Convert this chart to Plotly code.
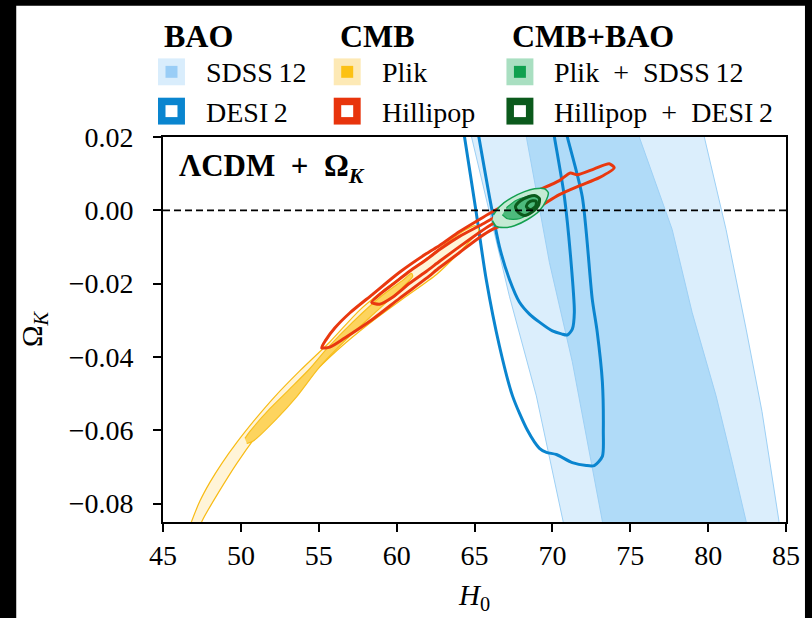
import plotly.graph_objects as go

# ---------------- data (H0, Omega_K contour vertices) ----------------
# SDSS 12 (BAO) filled bands
sdss_2s_h0 = [64.25, 64.81, 67.24, 68.97, 70.64, 71.2, 84.95, 84.55, 83.46, 82.44, 81.15, 79.74, 79.2]
sdss_2s_ok = [0.03, 0.02, -0.0234, -0.0506, -0.0848, -0.095, -0.095, -0.0848, -0.0549, -0.0324, -0.0052, 0.02, 0.03]
sdss_1s_h0 = [67.86, 68.33, 69.81, 71.28, 73.21, 73.69, 83.0, 82.44, 81.54, 80.51, 78.97, 77.69, 75.58, 75.0]
sdss_1s_ok = [0.03, 0.02, -0.0142, -0.0413, -0.0848, -0.095, -0.095, -0.0848, -0.0685, -0.0506, -0.0278, -0.0052, 0.02, 0.03]

# DESI 2 (BAO) outlines
desi_2s_h0 = [64.0, 64.36, 65.11, 65.75, 66.60, 67.44, 68.40, 69.17, 69.62, 70.26, 71.28, 72.18, 72.69,
              73.21, 73.27, 73.21, 72.88, 72.56, 71.92, 70.96, 70.37, 64.0]
desi_2s_ok = [0.03, 0.02, -0.0006, -0.0188, -0.0370, -0.0506, -0.0600, -0.0649, -0.0660, -0.0666, -0.0688,
              -0.0696, -0.0696, -0.0671, -0.0603, -0.0468, -0.0332, -0.0242, 0.0037, 0.02, 0.03, 0.03]
desi_1s_h0 = [64.85, 65.28, 65.96, 66.60, 67.24, 67.88, 68.53, 69.17, 70.0, 70.58, 70.96, 71.28, 71.41, 71.2,
              70.77, 70.13, 69.73, 64.85]
desi_1s_ok = [0.03, 0.02, 0.0037, -0.0099, -0.0188, -0.0250, -0.0283, -0.0305, -0.0329, -0.0337, -0.0340, -0.0324,
              -0.0278, -0.0142, 0.0037, 0.02, 0.03, 0.03]

# Plik (CMB) filled
plik_2s_h0 = [46.47, 46.84, 47.37, 48.01, 48.78, 49.74, 50.90, 52.18, 53.78, 55.71, 57.63, 59.74, 61.92, 64.04, 65.06,
              65.26, 65.26, 64.68, 63.72, 62.56, 60.38, 58.27, 56.15, 53.97, 51.86, 49.74, 47.50, 47.12]
plik_2s_ok = [-0.0894, -0.0848, -0.0793, -0.0742, -0.0690, -0.0633, -0.0571, -0.0508, -0.0438, -0.0359, -0.0272,
              -0.0199, -0.0131, -0.0063, -0.0042, -0.0050, -0.0058, -0.0085, -0.0128, -0.0175, -0.0242, -0.0308,
              -0.0383, -0.0473, -0.0568, -0.0690, -0.0848, -0.0894]
plik_1s_h0 = [50.26, 50.58, 51.86, 53.14, 54.42, 55.51, 57.18, 59.10, 60.38, 60.96, 61.03, 60.38, 58.72, 56.79,
              55.06, 53.59, 52.31, 50.77, 50.38]
plik_1s_ok = [-0.0622, -0.0603, -0.0541, -0.0487, -0.0432, -0.0378, -0.0305, -0.0231, -0.0191, -0.0172, -0.0180,
              -0.0210, -0.0275, -0.0351, -0.0427, -0.0508, -0.0568, -0.0630, -0.0636]

# Hillipop (CMB) outlines
hil_2s_h0 = [55.19, 55.45, 56.03, 56.99, 58.46, 60.19, 61.92, 62.76, 64.04, 65.32, 66.15, 67.88, 69.17, 70.45, 71.15,
             71.60, 72.69, 73.65, 73.97, 73.01, 71.73, 70.45, 68.97, 67.44, 66.15, 65.32, 64.04, 62.76, 61.92, 60.19,
             58.46, 56.67, 55.71, 55.19]
hil_2s_ok = [-0.0375, -0.0354, -0.0321, -0.0280, -0.0229, -0.0169, -0.0118, -0.0096, -0.0058, -0.0025, -0.0004,
             0.0032, 0.0056, 0.0081, 0.0102, 0.0097, 0.0113, 0.0127, 0.0116, 0.0089, 0.0067, 0.0043, 0.0005, -0.0028,
             -0.0052, -0.0074, -0.0115, -0.0156, -0.0185, -0.0240, -0.0297, -0.0348, -0.0373, -0.0375]
hil_1s_h0 = [58.40, 58.91, 59.74, 60.83, 61.92, 62.76, 64.04, 65.32, 66.60, 67.56, 68.21, 68.53, 68.33, 67.24, 65.96,
             64.04, 62.76, 61.92, 60.83, 59.74, 58.91, 58.40]
hil_1s_ok = [-0.0251, -0.0229, -0.0202, -0.0166, -0.0134, -0.0107, -0.0071, -0.0042, -0.0012, 0.0007, 0.0018, 0.0016,
             0.0005, -0.0014, -0.0042, -0.0099, -0.0139, -0.0166, -0.0199, -0.0237, -0.0256, -0.0251]

# Plik + SDSS 12 (CMB+BAO) filled
ps_2s_h0 = [66.15, 66.41, 66.92, 67.56, 68.40, 69.17, 69.62, 69.74, 69.49, 68.85, 68.21, 67.37, 66.60, 66.22]
ps_2s_ok = [-0.0028, -0.0044, -0.0047, -0.0042, -0.0025, -0.0001, 0.0029, 0.0048, 0.0059, 0.0059, 0.0051, 0.0034,
            0.0010, -0.0012]
ps_1s_h0 = [66.79, 67.12, 67.88, 68.65, 69.10, 69.17, 68.85, 68.33, 67.63, 67.05]
ps_1s_ok = [-0.0012, -0.0023, -0.0023, -0.0006, 0.0016, 0.0032, 0.0040, 0.0037, 0.0026, 0.0007]

# Hillipop + DESI 2 (CMB+BAO) outlines
hd_2s_h0 = [67.63, 67.82, 68.21, 68.72, 69.10, 69.17, 68.91, 68.46, 67.95, 67.63]
hd_2s_ok = [0.0010, -0.0006, -0.0014, -0.0004, 0.0013, 0.0032, 0.0040, 0.0037, 0.0026, 0.0010]
hd_1s_h0 = [68.33, 68.59, 68.91, 68.97, 68.72, 68.46, 68.33]
hd_1s_ok = [0.0010, 0.0002, 0.0010, 0.0024, 0.0026, 0.0021, 0.0010]

# reference line and axes
flat_h0 = [45, 85]
flat_ok = [0.0, 0.0]
x_ticks = [45, 50, 55, 60, 65, 70, 75, 80, 85]
y_ticks = [-0.08, -0.06, -0.04, -0.02, 0.0, 0.02]
x_range = [45, 85]
y_range = [-0.085, 0.02]

# ---------------- styles ----------------
C_SDSS2, C_SDSS1, C_SDSSE = "#dbeefc", "#b0dbf8", "#9dd0f5"
C_DESI = "#0a85cf"
C_PLIK2, C_PLIK2E, C_PLIK1, C_PLIK1E = "#fff4d8", "#f8bb14", "#fdd45e", "#f7bf1e"
C_HIL = "#e9380f"
C_PS2, C_PSE, C_PS1 = "#c5ead4", "#14a050", "#4dba7c"
C_HD = "#0b5a1c"
FONT = "Liberation Serif"

fig = go.Figure()


def add_fill(x, y, fill, edge, lw, shape="spline"):
    fig.add_trace(go.Scatter(x=x, y=y, mode="lines", fill="toself", fillcolor=fill,
                             line=dict(color=edge, width=lw, shape=shape, smoothing=0.7),
                             hoverinfo="skip", showlegend=False))


def add_line(x, y, color, lw, dash="solid", shape="spline"):
    fig.add_trace(go.Scatter(x=x, y=y, mode="lines",
                             line=dict(color=color, width=lw, dash=dash, shape=shape, smoothing=0.7),
                             hoverinfo="skip", showlegend=False))


add_fill(sdss_2s_h0, sdss_2s_ok, C_SDSS2, C_SDSSE, 1, shape="linear")
add_fill(sdss_1s_h0, sdss_1s_ok, C_SDSS1, C_SDSSE, 1, shape="linear")
add_line(desi_2s_h0, desi_2s_ok, C_DESI, 3)
add_line(desi_1s_h0, desi_1s_ok, C_DESI, 3)
add_fill(plik_2s_h0, plik_2s_ok, C_PLIK2, C_PLIK2E, 1.2)
add_fill(plik_1s_h0, plik_1s_ok, C_PLIK1, C_PLIK1E, 1.2)
add_line(hil_2s_h0, hil_2s_ok, C_HIL, 3)
add_line(hil_1s_h0, hil_1s_ok, C_HIL, 3)
add_fill(ps_2s_h0, ps_2s_ok, C_PS2, C_PSE, 1.5)
add_fill(ps_1s_h0, ps_1s_ok, C_PS1, C_PSE, 1.2)
add_line(hd_2s_h0, hd_2s_ok, C_HD, 3)
add_line(hd_1s_h0, hd_1s_ok, C_HD, 3)
add_line(flat_h0, flat_ok, "black", 1.8, dash="7px,4px", shape="linear")

# ---------------- layout ----------------
W, H = 812, 618
L, R, T, B = 163, 787, 137, 524


def px(xp):
    return (xp - L) / (R - L)


def py(yp):
    return (B - yp) / (B - T)


shapes = [dict(type="rect", xref="paper", yref="paper", x0=px(16), x1=px(806), y0=py(640), y1=py(5),
               fillcolor="white", line=dict(width=0), layer="below")]
annotations = []

# custom legend
headers = [("BAO", 162), ("CMB", 338), ("CMB+BAO", 511)]
for txt, xh in headers:
    annotations.append(dict(text="<b>%s</b>" % txt, x=px(xh), y=py(35), xref="paper", yref="paper",
                            xanchor="left", yanchor="middle", showarrow=False,
                            font=dict(family=FONT, size=32, color="black")))

PLUS = "\u2002+\u2002"
entries = [
    (158, 71.5, "SDSS\u200912", "#d9edfc", "#99cdf6"),
    (158, 111, "DESI\u20092", C_DESI, "white"),
    (334, 71.5, "Plik", "#fde9b5", "#fcc114"),
    (334, 111, "Hillipop", "#e8340c", "white"),
    (507, 71.5, "Plik" + PLUS + "SDSS\u200912", "#a9dfc1", "#10a04f"),
    (507, 111, "Hillipop" + PLUS + "DESI\u20092", C_HD, "white"),
]
for x0, yc, label, outer, inner in entries:
    shapes.append(dict(type="rect", xref="paper", yref="paper", x0=px(x0), x1=px(x0 + 27),
                       y0=py(yc + 13.5), y1=py(yc - 13.5), fillcolor=outer, line=dict(width=0)))
    shapes.append(dict(type="rect", xref="paper", yref="paper", x0=px(x0 + 7.5), x1=px(x0 + 19.5),
                       y0=py(yc + 6), y1=py(yc - 6), fillcolor=inner, line=dict(width=0)))
    annotations.append(dict(text=label, x=px(x0 + 46), y=py(yc + 1), xref="paper", yref="paper",
                            xanchor="left", yanchor="middle", showarrow=False,
                            font=dict(family=FONT, size=28, color="black")))

annotations.append(dict(text="<b>\u039bCDM\u2002+\u2002\u03a9<sub><i>K</i></sub></b>", x=px(177), y=py(168),
                        xref="paper", yref="paper", xanchor="left", yanchor="middle", showarrow=False,
                        font=dict(family=FONT, size=31, color="black")))

axis_common = dict(showline=True, linecolor="black", linewidth=1.6, mirror=True, ticks="outside",
                   ticklen=8, tickwidth=1.6, tickcolor="black", showgrid=False, zeroline=False,
                   tickfont=dict(family=FONT, size=28, color="black"))

fig.update_layout(
    width=W, height=H,
    margin=dict(l=L, r=W - R, t=T, b=H - B, pad=0),
    paper_bgcolor="black", plot_bgcolor="white",
    showlegend=False,
    xaxis=dict(range=x_range, tickvals=x_ticks, ticktext=[str(v) for v in x_ticks],
               title=dict(text="<i>H</i><sub>0</sub>", font=dict(family=FONT, size=29, color="black"),
                          standoff=14),
               **axis_common),
    yaxis=dict(range=y_range, tickvals=y_ticks, tickformat=".2f", ticklabelstandoff=14,
               title=dict(text="\u03a9<sub><i>K</i></sub>", font=dict(family=FONT, size=29, color="black"),
                          standoff=18),
               **axis_common),
    shapes=shapes, annotations=annotations,
)

fig.write_html("out.html")
